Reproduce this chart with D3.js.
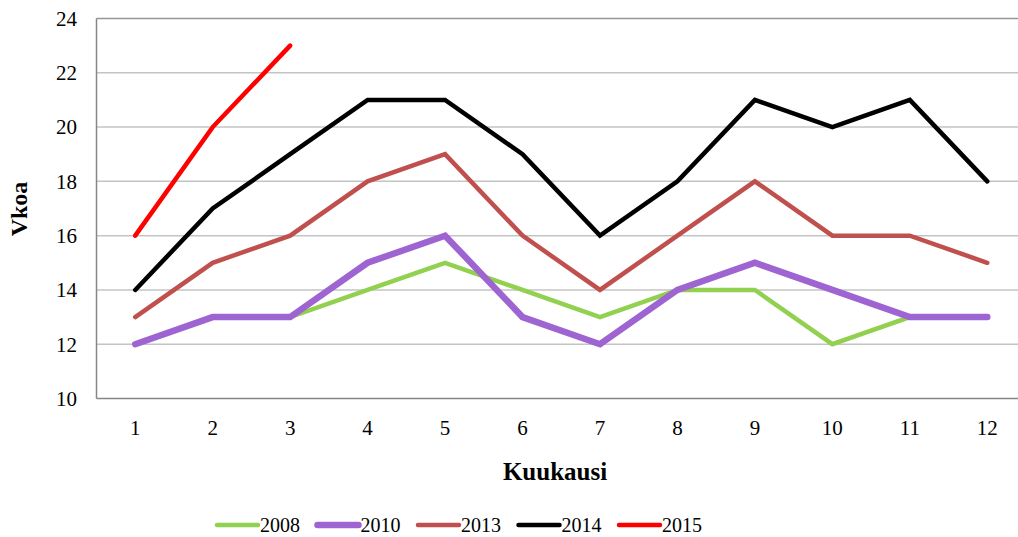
<!DOCTYPE html>
<html>
<head>
<meta charset="utf-8">
<script src="https://cdn.jsdelivr.net/npm/d3@7"></script>
<style>
  body { margin: 0; background: #fff; }
  text { font-family: "Liberation Serif", "Times New Roman", serif; fill: #000; }
</style>
</head>
<body>
<svg width="1018" height="537"></svg>
<script>
var months = [1, 2, 3, 4, 5, 6, 7, 8, 9, 10, 11, 12];
var yTicks = [10, 12, 14, 16, 18, 20, 22, 24];
var s2008 = [12, 13, 13, 14, 15, 14, 13, 14, 14, 12, 13, 13];
var s2010 = [12, 13, 13, 15, 16, 13, 12, 14, 15, 14, 13, 13];
var s2013 = [13, 15, 16, 18, 19, 16, 14, 16, 18, 16, 16, 15];
var s2014 = [14, 17, 19, 21, 21, 19, 16, 18, 21, 20, 21, 18];
var s2015 = [16, 20, 23];

var series = [
  {name: "2008", values: s2008, color: "#92d050", width: 4.5},
  {name: "2010", values: s2010, color: "#9e65d2", width: 6.5},
  {name: "2013", values: s2013, color: "#c0504d", width: 4.5},
  {name: "2014", values: s2014, color: "#000000", width: 4.5},
  {name: "2015", values: s2015, color: "#ff0000", width: 4.5}
];

var svg = d3.select("svg");
var plotLeft = 96.5, plotTop = 18.5, plotBottom = 398.5, plotRight = 1026;

var x = d3.scaleBand()
  .domain(months)
  .range([plotLeft, plotRight]);
var y = d3.scaleLinear()
  .domain([10, 24])
  .range([plotBottom, plotTop]);

// gridlines
svg.selectAll(".grid")
  .data(yTicks.slice(1))
  .enter().append("line")
  .attr("x1", plotLeft).attr("x2", 1018)
  .attr("y1", function(d) { return y(d); })
  .attr("y2", function(d) { return y(d); })
  .attr("stroke", function(d) { return d == 24 ? "#969696" : "#c4c4c4"; })
  .attr("stroke-width", 1.5);

// axes lines
svg.append("line")
  .attr("x1", plotLeft).attr("x2", plotLeft).attr("y1", plotTop).attr("y2", plotBottom)
  .attr("stroke", "#868686").attr("stroke-width", 1.5);
svg.append("line")
  .attr("x1", plotLeft).attr("x2", 1018).attr("y1", plotBottom).attr("y2", plotBottom)
  .attr("stroke", "#868686").attr("stroke-width", 1.5);

// y tick labels
svg.selectAll(".ylab")
  .data(yTicks)
  .enter().append("text")
  .attr("x", 77)
  .attr("y", function(d) { return y(d); })
  .attr("dy", "0.35em")
  .attr("text-anchor", "end")
  .style("font-size", "21px")
  .text(function(d) { return d; });

// x tick labels
svg.selectAll(".xlab")
  .data(months)
  .enter().append("text")
  .attr("x", function(d) { return x(d) + x.bandwidth() / 2; })
  .attr("y", 435)
  .attr("text-anchor", "middle")
  .style("font-size", "21px")
  .text(function(d) { return d; });

// axis titles
svg.append("text")
  .attr("x", 555).attr("y", 480)
  .attr("text-anchor", "middle")
  .style("font-size", "25px").style("font-weight", "bold")
  .text("Kuukausi");
svg.append("text")
  .attr("transform", "translate(27,209) rotate(-90)")
  .attr("text-anchor", "middle")
  .style("font-size", "24px").style("font-weight", "bold")
  .text("Vkoa");

var line = d3.line()
  .x(function(d, i) { return x(months[i]) + x.bandwidth() / 2; })
  .y(function(d) { return y(d); });

svg.selectAll(".series")
  .data(series)
  .enter().append("path")
  .attr("d", function(d) { return line(d.values); })
  .attr("fill", "none")
  .attr("stroke", function(d) { return d.color; })
  .attr("stroke-width", function(d) { return d.width; })
  .attr("stroke-linejoin", "miter")
  .attr("stroke-linecap", "round");

// legend
var legend = svg.selectAll(".legend")
  .data(series)
  .enter().append("g")
  .attr("transform", function(d, i) { return "translate(" + (217 + i * 100.5) + ",525)"; });
legend.append("line")
  .attr("x1", 0).attr("x2", 41)
  .attr("stroke", function(d) { return d.color; })
  .attr("stroke-width", function(d) { return d.width; })
  .attr("stroke-linecap", "round");
legend.append("text")
  .attr("x", 43)
  .attr("dy", "0.35em")
  .style("font-size", "20px")
  .text(function(d) { return d.name; });
</script>
</body>
</html>
